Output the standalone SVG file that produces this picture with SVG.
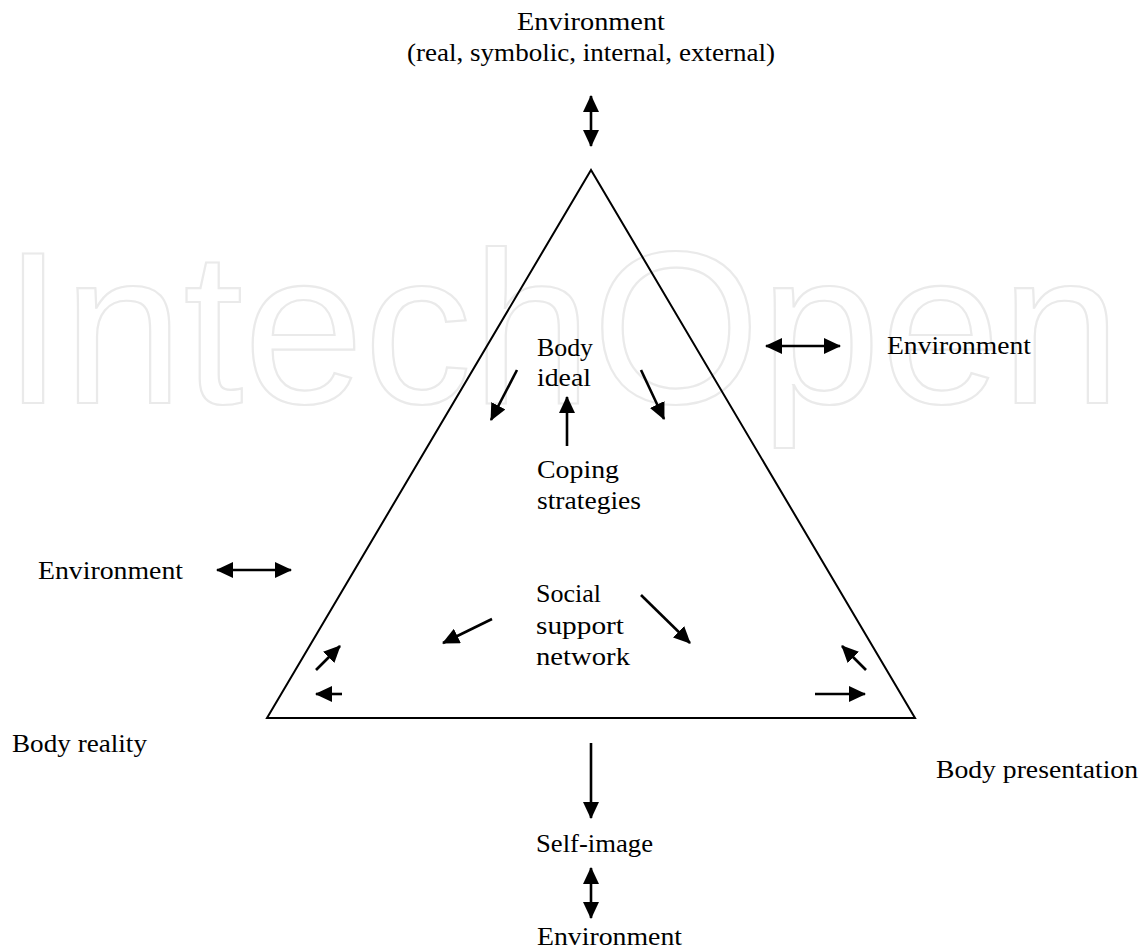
<svg xmlns="http://www.w3.org/2000/svg" width="1143" height="949" viewBox="0 0 1143 949">
<style>
.t{font-family:"Liberation Serif","Times New Roman",serif;font-size:26px;fill:#000}
.c{stroke:#000;stroke-width:2.6;fill:none}
.wm{font-family:"Liberation Sans",Arial,sans-serif;font-size:218px;fill:none;stroke:#eaeaea;stroke-width:2.2}
</style>
<defs>
<marker id="ah" markerUnits="userSpaceOnUse" markerWidth="17" markerHeight="16" viewBox="0 0 17 16" refX="16" refY="8" orient="auto-start-reverse"><path d="M0,0 L17,8 L0,16 z" fill="#000"/></marker>
</defs>
<rect width="1143" height="949" fill="#fff"/>
<text class="wm" x="3" y="403" textLength="1118" lengthAdjust="spacingAndGlyphs">IntechOpen</text>
<g id="triangle"><polygon points="591,170 267,718 915,718" fill="none" stroke="#000" stroke-width="2"/></g>
<g id="env-top"><text class="t" x="517" y="30" textLength="148" lengthAdjust="spacingAndGlyphs">Environment</text><text class="t" x="407" y="61" textLength="368" lengthAdjust="spacingAndGlyphs">(real, symbolic, internal, external)</text></g>
<g id="body-ideal"><text class="t" x="537" y="356" textLength="56" lengthAdjust="spacingAndGlyphs">Body</text><text class="t" x="537" y="386" textLength="54" lengthAdjust="spacingAndGlyphs">ideal</text></g>
<g id="coping"><text class="t" x="537" y="478" textLength="82" lengthAdjust="spacingAndGlyphs">Coping</text><text class="t" x="537" y="509" textLength="104" lengthAdjust="spacingAndGlyphs">strategies</text></g>
<g id="social"><text class="t" x="536" y="602" textLength="65" lengthAdjust="spacingAndGlyphs">Social</text><text class="t" x="536" y="634" textLength="88" lengthAdjust="spacingAndGlyphs">support</text><text class="t" x="536" y="665" textLength="94" lengthAdjust="spacingAndGlyphs">network</text></g>
<g id="env-right"><text class="t" x="887" y="354" textLength="144" lengthAdjust="spacingAndGlyphs">Environment</text></g>
<g id="env-left"><text class="t" x="38" y="579" textLength="145" lengthAdjust="spacingAndGlyphs">Environment</text></g>
<g id="body-reality"><text class="t" x="12" y="752" textLength="135" lengthAdjust="spacingAndGlyphs">Body reality</text></g>
<g id="body-presentation"><text class="t" x="936" y="778" textLength="202" lengthAdjust="spacingAndGlyphs">Body presentation</text></g>
<g id="self-image"><text class="t" x="536" y="852" textLength="117" lengthAdjust="spacingAndGlyphs">Self-image</text></g>
<g id="env-bottom"><text class="t" x="537" y="945" textLength="145" lengthAdjust="spacingAndGlyphs">Environment</text></g>
<g id="connectors">
<line class="c" x1="591" y1="96" x2="591" y2="146" marker-start="url(#ah)" marker-end="url(#ah)"/>
<line class="c" x1="766" y1="346" x2="840" y2="346" marker-start="url(#ah)" marker-end="url(#ah)"/>
<line class="c" x1="217" y1="570" x2="291" y2="570" marker-start="url(#ah)" marker-end="url(#ah)"/>
<line class="c" x1="517" y1="370" x2="491" y2="420" marker-end="url(#ah)"/>
<line class="c" x1="641" y1="370" x2="664" y2="419" marker-end="url(#ah)"/>
<line class="c" x1="567" y1="446" x2="567" y2="397" marker-end="url(#ah)"/>
<line class="c" x1="492" y1="619" x2="443" y2="643" marker-end="url(#ah)"/>
<line class="c" x1="641" y1="595" x2="690" y2="643" marker-end="url(#ah)"/>
<line class="c" x1="316" y1="670" x2="340" y2="646" marker-end="url(#ah)"/>
<line class="c" x1="342" y1="694" x2="316" y2="694" marker-end="url(#ah)"/>
<line class="c" x1="866" y1="670" x2="842" y2="646" marker-end="url(#ah)"/>
<line class="c" x1="815" y1="694" x2="865" y2="694" marker-end="url(#ah)"/>
<line class="c" x1="591" y1="743" x2="591" y2="818" marker-end="url(#ah)"/>
<line class="c" x1="591" y1="868" x2="591" y2="918" marker-start="url(#ah)" marker-end="url(#ah)"/>
</g>
</svg>
